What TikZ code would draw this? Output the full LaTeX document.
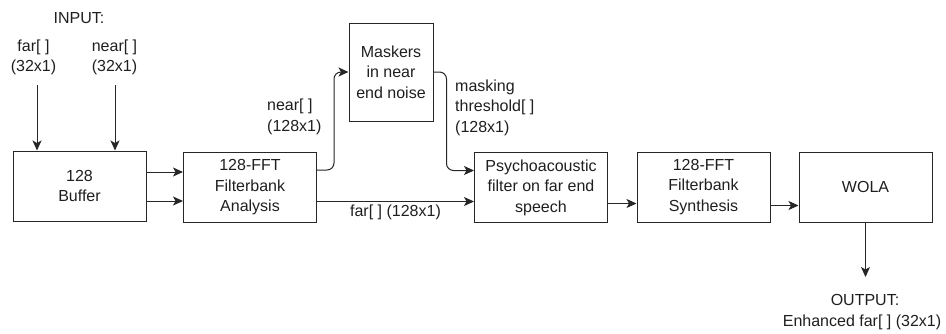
\documentclass[tikz,border=0pt]{standalone}
\usepackage{fontspec}
\setmainfont{Liberation Sans}
\usetikzlibrary{arrows.meta}
\begin{document}
\begin{tikzpicture}[x=1pt,y=-1pt,
  every node/.style={font=\fontsize{16}{20.5}\selectfont, text=black!88, inner sep=0pt},
  block/.style={draw=black!85, line width=1pt, fill=white, align=center,
    minimum width=133pt, minimum height=70pt},
  lbl/.style={align=center},
  flow/.style={draw=black!85, line width=1pt,
    -{Stealth[length=10pt,width=9pt,inset=2.5pt]}}]
  \useasboundingbox (0,0) rectangle (946,333);

  % processing blocks
  \node[block] (buf) at (79.5,186) {128\\Buffer};
  \node[block] (ana) at (250,187.5) {128-FFT\\Filterbank\\Analysis};
  \node[block, minimum width=84pt, minimum height=98pt] (mask) at (391,72) {Maskers\\in near\\end noise};
  \node[block] (psy) at (541,187.5) {Psychoacoustic\\filter on far end\\speech};
  \node[block] (syn) at (703.5,187) {128-FFT\\Filterbank\\Synthesis};
  \node[block] (wola) at (865.5,187) {WOLA};

  % inputs
  \node[lbl] (inp) at (79,18) {INPUT:};
  \node[lbl] (farlbl) at (33.5,57.5) {far[ ]\\(32x1)};
  \node[lbl] (nearlbl) at (114.5,57.5) {near[ ]\\(32x1)};
  \coordinate (farin) at (37,85);
  \coordinate (nearin) at (115,85);
  \draw[flow] (farin) -- (farin |- buf.north);
  \draw[flow] (nearin) -- (nearin |- buf.north);

  % buffer to analysis
  \draw[flow] (buf.east |- 0,172) -- (ana.west |- 0,172);
  \draw[flow] (buf.east |- 0,201) -- (ana.west |- 0,201);

  % near-end branch through the masker model
  \draw[flow, rounded corners=7pt] (ana.east |- 0,170) -- ++(17,0) |- (mask.west);
  \node[lbl, align=left, anchor=west] (nearspec) at (267,117) {near[ ]\\(128x1)};
  \draw[flow, rounded corners=7pt] (mask.east) -- ++(13,0) |- (psy.west |- 0,170.5);
  \node[lbl, align=left, anchor=west] (mth) at (455,107.5) {masking\\threshold[ ]\\(128x1)};

  % far-end spectrum
  \draw[flow] (ana.east |- 0,201.5) -- node[below=3pt] (farspec) {far[ ] (128x1)} (psy.west |- 0,201.5);

  % synthesis chain
  \draw[flow] (psy.east |- 0,203.5) -- (syn.west |- 0,203.5);
  \draw[flow] (syn.east |- 0,205.5) -- (wola.west |- 0,205.5);

  % output
  \coordinate (outp) at (865.5,277);
  \draw[flow] (wola.south) -- (outp);
  \node[lbl] (outlbl) at (865,300) {OUTPUT:};
  \node[lbl] (enh) at (862,322) {Enhanced far[ ] (32x1)};
\end{tikzpicture}
\end{document}
